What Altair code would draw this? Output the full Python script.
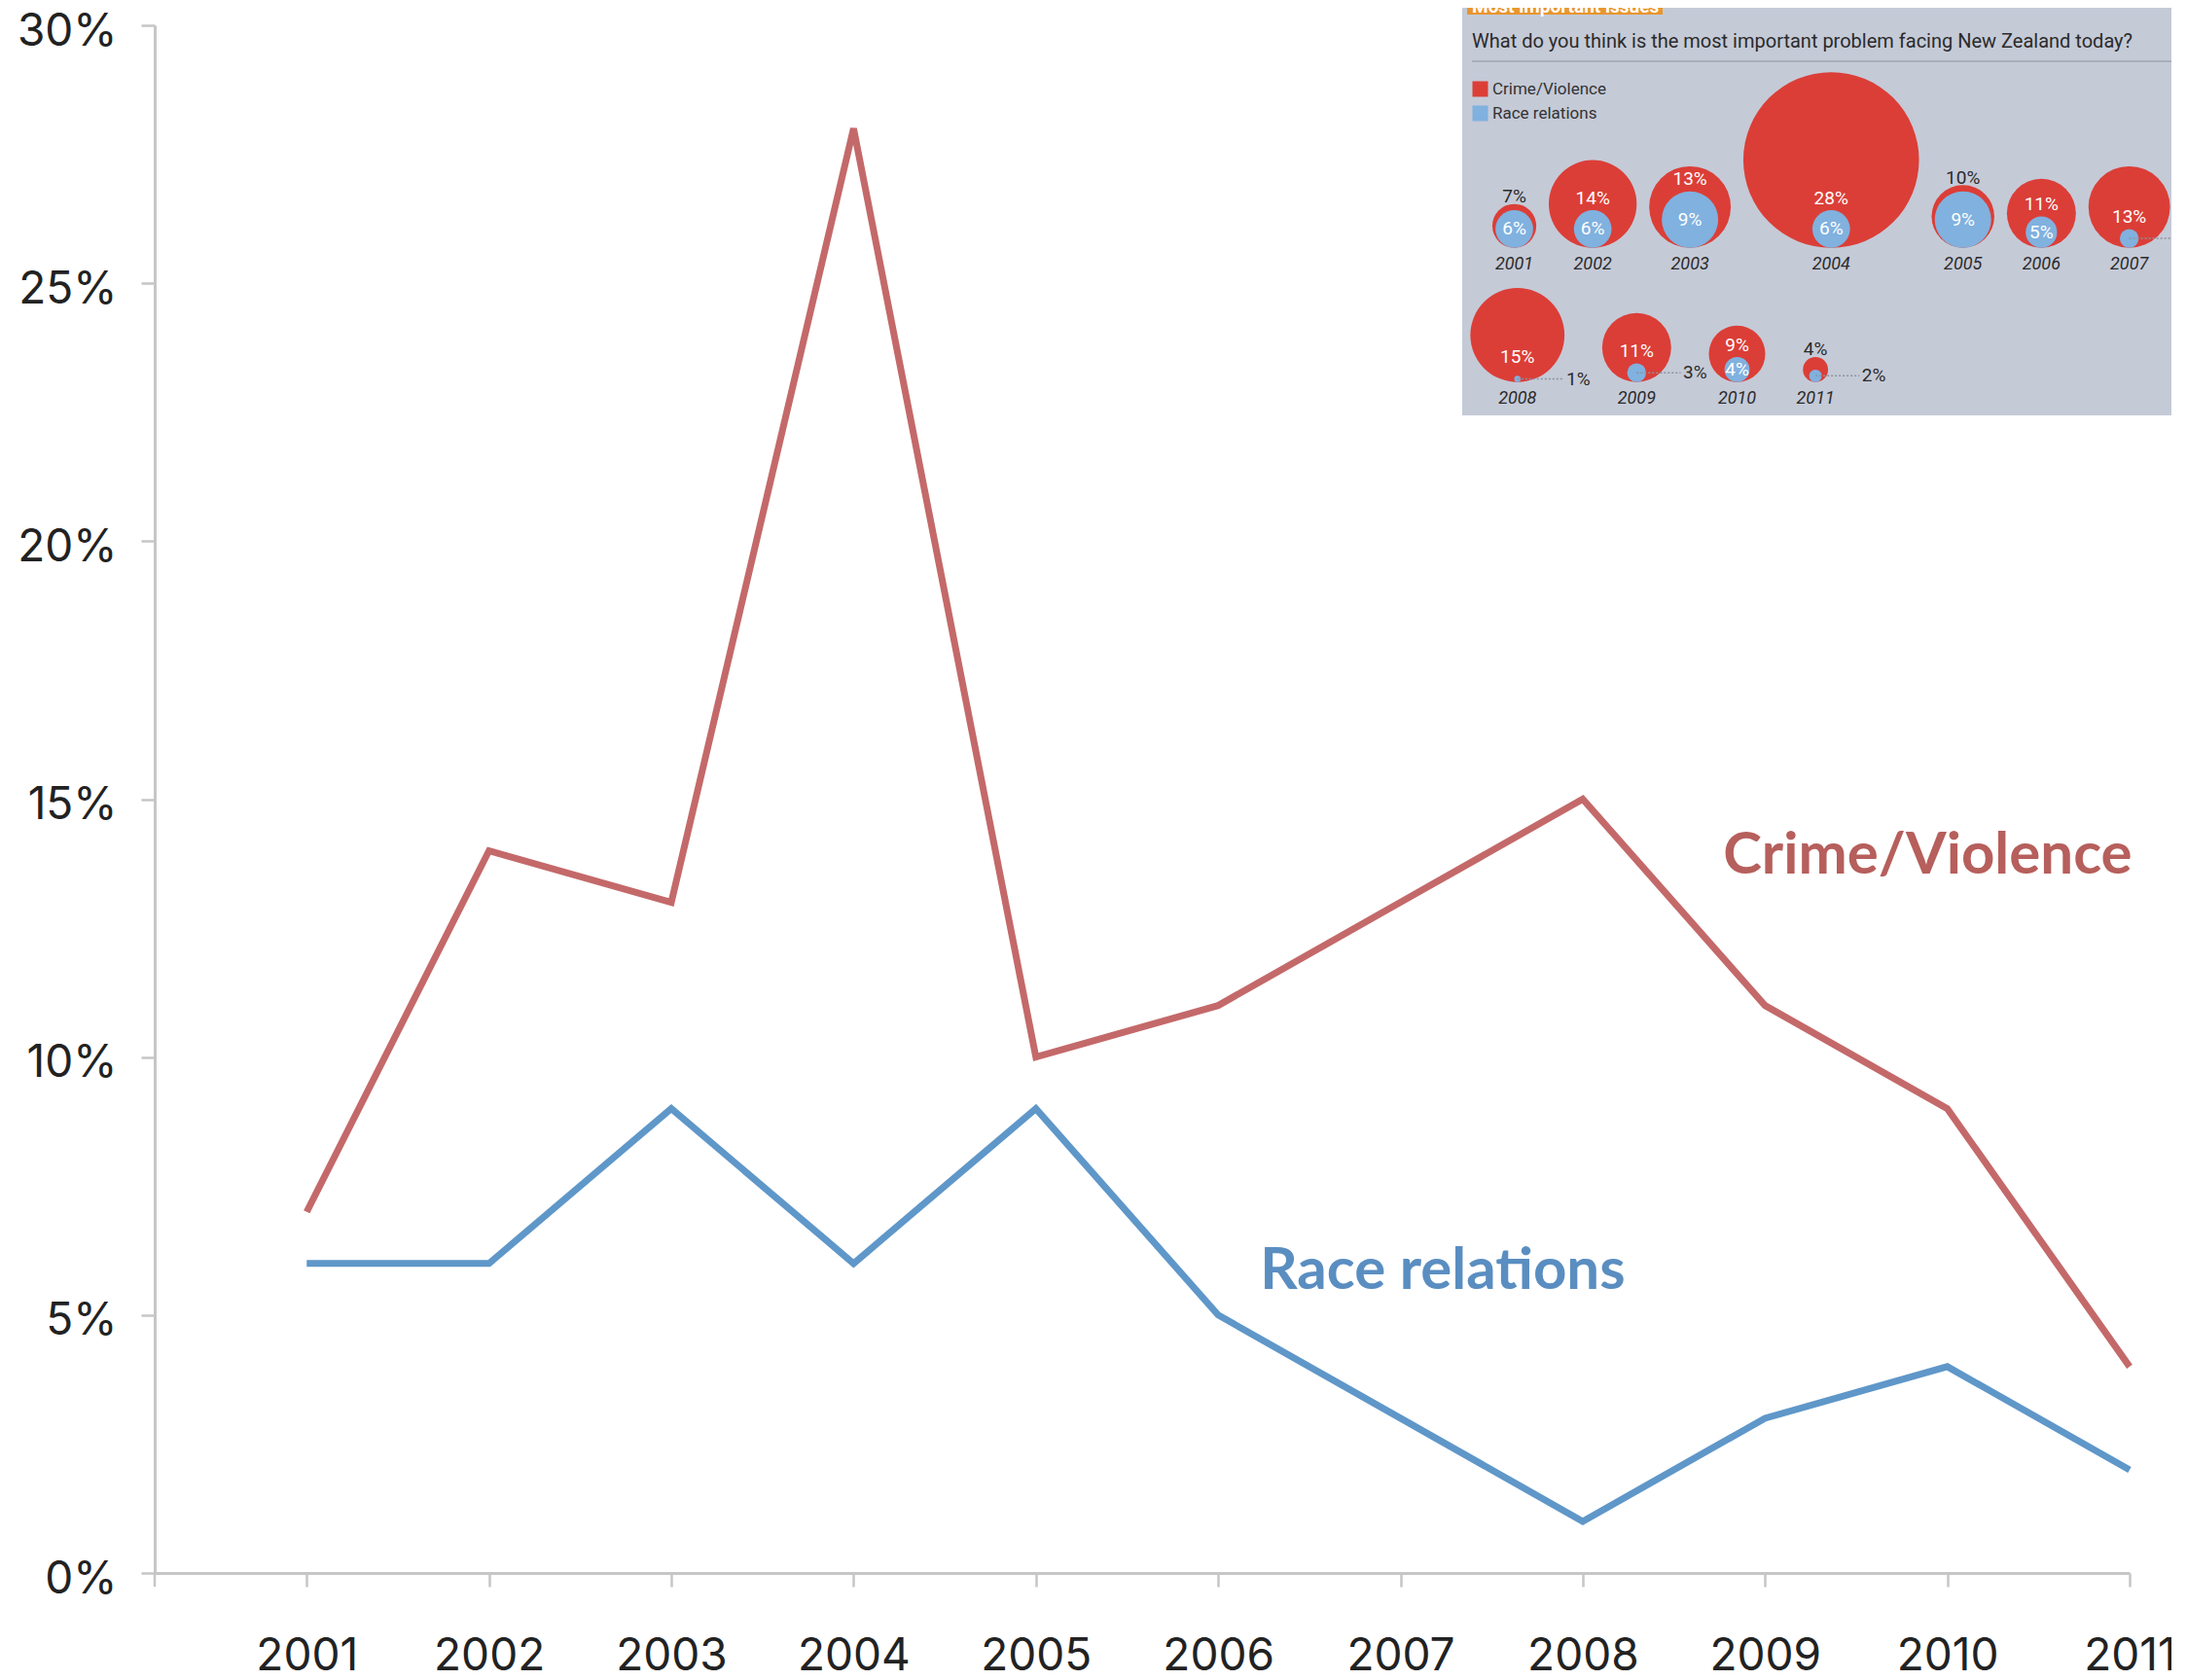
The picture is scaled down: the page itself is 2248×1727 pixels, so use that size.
import altair as alt
import pandas as pd

# ---------------- data ----------------
years = list(range(2001, 2012))
crime = [7, 14, 13, 28, 10, 11, 13, 15, 11, 9, 4]
race = [6, 6, 9, 6, 9, 5, 3, 1, 3, 4, 2]
series_names = ["Crime/Violence", "Race relations"]
y_ticks = [0, 5, 10, 15, 20, 25, 30]
label_anchor_year = [2008.77, 2006.23]
label_anchor_value = [13.9, 5.85]
inset_title = "Most important issues"
inset_question = "What do you think is the most important problem facing New Zealand today?"

# ---------------- styles ----------------
line_colors = ["#c4696a", "#5f97c9"]
label_colors = ["#b65f5c", "#5a8ec1"]
bubble_colors = ["#db3e37", "#80b1df"]
AX_FONT = "Inter"
LAB_FONT = "Lato"
IN_FONT = "Liberation Sans Narrow, Roboto, Open Sans, sans-serif"
AXIS_GREY = "#c6c6c6"

# main data table
rows = []
for s, vals in zip(series_names, [crime, race]):
    for yr, v in zip(years, vals):
        rows.append({"year": yr, "value": v, "series": s})
df_main = pd.DataFrame(rows)
df_lab = pd.DataFrame({"series": series_names, "year": label_anchor_year,
                       "value": label_anchor_value, "color": label_colors})

x_dom = [2000.166, 2011]
xs = alt.Scale(domain=x_dom, nice=False, zero=False)
ys = alt.Scale(domain=[0, 30], nice=False, zero=True)

x_axis = alt.Axis(values=years, format="d", tickCount=len(years),
                  title=None, grid=False, domainColor=AXIS_GREY, domainWidth=3,
                  tickColor=AXIS_GREY, tickWidth=2.5, tickSize=14,
                  labelFont=AX_FONT, labelFontSize=46, labelColor="#222222",
                  labelPadding=49, labelFlush=False, labelOverlap=False, labelBound=False)
y_axis = alt.Axis(values=y_ticks, labelExpr="datum.value + '%'",
                  title=None, grid=False, domainColor=AXIS_GREY, domainWidth=3,
                  tickColor=AXIS_GREY, tickWidth=2.5, tickSize=14,
                  labelFont=AX_FONT, labelFontSize=46, labelColor="#222222",
                  labelPadding=25, labelOffset=6, labelFlush=False, labelOverlap=False)

lines = alt.Chart(df_main).mark_line(strokeWidth=7, strokeJoin="miter").encode(
    x=alt.X("year:Q", scale=xs, axis=x_axis),
    y=alt.Y("value:Q", scale=ys, axis=y_axis),
    color=alt.Color("series:N", scale=alt.Scale(domain=series_names, range=line_colors), legend=None),
    detail="series:N",
)

# small tick where the axes meet (below the origin)
origin_tick = alt.Chart(pd.DataFrame({"x0": [x_dom[0]]})).mark_rule(
    color=AXIS_GREY, strokeWidth=2.5).encode(
    x=alt.X("x0:Q", scale=xs, axis=None), y=alt.value(1591), y2=alt.value(1605))

labels = alt.Chart(df_lab).mark_text(align="left", baseline="middle", font=LAB_FONT,
                                     fontWeight="bold", fontSize=60).encode(
    x=alt.X("year:Q", scale=xs, axis=None),
    y=alt.Y("value:Q", scale=ys, axis=None),
    text="series:N",
    color=alt.Color("color:N", scale=None),
)

# ---------------- inset (bubble chart) ----------------
U = 6.45                  # px per percentage point of bubble diameter
ROW_BREAK = 7
ROW_BASE = [39.5, 60.9]   # row baselines, in units from inset top
ROW_GAP = [2.0, 6.0]
ROW_LEFT = [4.8, 1.3]
PANEL_W_U = 745 / U
PANEL_H_U = 427 / U

circ_red, circ_blue, red_in, red_out, blue_in, blue_out, leaders, yr_lab = [], [], [], [], [], [], [], []
cursor = list(ROW_LEFT)
for i, (yr, c, r) in enumerate(zip(years, crime, race)):
    row = 0 if i < ROW_BREAK else 1
    cx = cursor[row] + c / 2
    cursor[row] += c + ROW_GAP[row]
    base = ROW_BASE[row]
    circ_red.append({"ix": cx, "iy": base - c / 2, "value": c, "series": series_names[0], "ord": 0})
    circ_blue.append({"ix": cx, "iy": base - r / 2, "value": r, "series": series_names[1], "ord": 1})
    if c - r >= 4:
        red_in.append({"ix": cx, "iy": base - max(r + 1.9, 4), "t": f"{c}%"})
    else:
        red_out.append({"ix": cx, "iy": base - c - 1.2, "t": f"{c}%"})
    if r >= 4:
        blue_in.append({"ix": cx, "iy": base - r / 2, "t": f"{r}%"})
    else:
        lx = cx + max(c / 2 + 0.3, 7.4)
        blue_out.append({"ix": lx, "iy": base - r / 2, "t": f"{r}%"})
        leaders.append({"ix": cx, "ix2": lx - 0.4, "iy": base - r / 2})
    yr_lab.append({"ix": cx, "iy": base + 2.6, "t": str(yr)})

df_circ = pd.DataFrame(circ_red + circ_blue)

ixs = alt.Scale(domain=[0, PANEL_W_U], range=[1344, 2089], nice=False, zero=False)
iys = alt.Scale(domain=[0, PANEL_H_U], range=[-26, 401], nice=False, zero=False)
IX = alt.X("ix:Q", scale=ixs, axis=None)
IY = alt.Y("iy:Q", scale=iys, axis=None)

one = pd.DataFrame({"t": [inset_title], "q": [inset_question]})

panel = alt.Chart(one).mark_rect(color="#c5cad7").encode(
    x=alt.value(1344), x2=alt.value(2100), y=alt.value(-40), y2=alt.value(401))
header = alt.Chart(one).mark_rect(color="#e8962f").encode(
    x=alt.value(1349), x2=alt.value(1550), y=alt.value(-40), y2=alt.value(-11))
header_t = alt.Chart(one).mark_text(align="left", baseline="alphabetic", font=IN_FONT,
                                    fontWeight="bold", fontSize=19, color="white").encode(
    x=alt.value(1354), y=alt.value(-13), text="t:N")
question = alt.Chart(one).mark_text(align="left", baseline="middle", font=IN_FONT,
                                    fontSize=20, color="#2b2b2b").encode(
    x=alt.value(1354), y=alt.value(17), text="q:N")
sep = alt.Chart(one).mark_rule(color="#8f949f", strokeWidth=1.2).encode(
    x=alt.value(1354), x2=alt.value(2100), y=alt.value(37))

circles = alt.Chart(df_circ).mark_circle(opacity=1).encode(
    x=IX, y=IY,
    size=alt.Size("value:Q", scale=alt.Scale(type="pow", exponent=2, domain=[0, 28],
                                             range=[0, (28 * U) ** 2], zero=True), legend=None),
    color=alt.Color("series:N", scale=alt.Scale(domain=series_names, range=bubble_colors),
                    legend=alt.Legend(orient="none", legendX=1354, legendY=57, title=None,
                                      symbolType="square", symbolSize=256, symbolStrokeWidth=0,
                                      symbolOpacity=1, labelFont=IN_FONT, labelFontSize=17,
                                      labelColor="#333333", labelOffset=4, rowPadding=7,
                                      padding=0)),
    order=alt.Order("ord:Q"),
)

lead = alt.Chart(pd.DataFrame(leaders)).mark_rule(color="#8d929e", strokeWidth=1.5,
                                                  strokeDash=[2, 2]).encode(
    x=IX, x2="ix2:Q", y=IY)


def txt(df, color, align="center", style="normal", size=19):
    return alt.Chart(pd.DataFrame(df)).mark_text(
        align=align, baseline="middle", font=IN_FONT, fontSize=size,
        fontStyle=style, color=color).encode(x=IX, y=IY, text="t:N")


chart = alt.layer(
    lines, origin_tick, labels,
    panel, header, header_t, question, sep, circles, lead,
    txt(red_in, "white"), txt(red_out, "#2b2b2b"),
    txt(blue_in, "white"), txt(blue_out, "#2b2b2b", align="left"),
    txt(yr_lab, "#2b2b2b", style="italic", size=18),
).resolve_scale(
    x="independent", y="independent", color="independent", size="independent"
).properties(
    width=2030, height=1591, autosize="none",
    padding={"left": 151, "top": 18, "right": 43, "bottom": 101},
    background="white",
).configure_view(stroke=None)

chart.save("out.html", embed_options={"renderer": "svg", "actions": False})
